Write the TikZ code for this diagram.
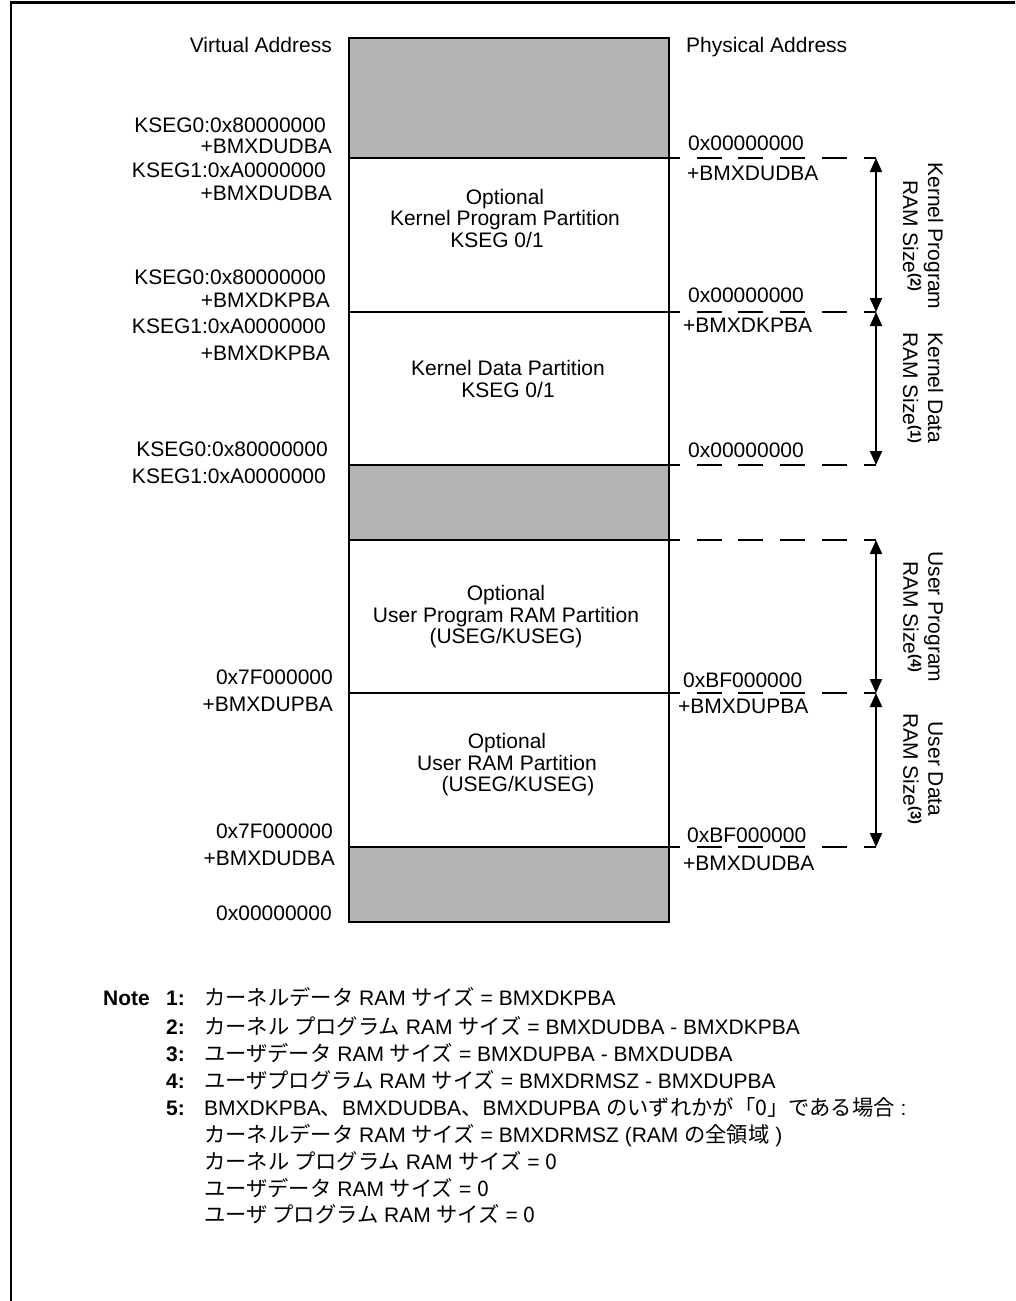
\documentclass[tikz,border=0pt]{standalone}
\usepackage{fontspec}
\setmainfont{Liberation Sans}
\newfontfamily\jpfont{Noto Sans CJK JP}
\usetikzlibrary{arrows.meta}
\definecolor{blockgray}{RGB}{179,179,179}
\newcommand{\J}[1]{{\jpfont\fontsize{21.3pt}{25pt}\selectfont #1}}
\begin{document}
\begin{tikzpicture}[x=1pt,y=-1pt,
  every node/.style={inner sep=0pt, font=\fontsize{21pt}{25pt}\selectfont},
  lab/.style={anchor=base east},
  rlab/.style={anchor=base west},
  boldlab/.style={anchor=base west, font=\bfseries\fontsize{21pt}{25pt}\selectfont},
  blk/.style={line width=2pt},
  frame/.style={line width=2.5pt},
  dashline/.style={line width=2pt, dash pattern=on 25pt off 16.7pt, dash phase=14pt},
  dimarrow/.style={line width=2pt, {Triangle[width=12pt,length=14pt]}-{Triangle[width=12pt,length=14pt]}},
  parttext/.style={align=center, font=\fontsize{21pt}{21.5pt}\selectfont},
  sizelab/.style={align=center, rotate=-90, font=\fontsize{21pt}{25pt}\selectfont},
]
\useasboundingbox (0,0) rectangle (1015,1301);

% outer frame (top and left)
\draw[frame] (11,1301) -- (11,2.5) -- (1015,2.5);

% gray regions
\fill[blockgray] (349,38) rectangle (669,158);
\fill[blockgray] (349,465) rectangle (669,540);
\fill[blockgray] (349,847) rectangle (669,922);

% block outline and dividers
\coordinate (bl0) at (349,38);
\coordinate (br7) at (669,922);
\draw[blk] (bl0) rectangle (br7);
\foreach \i/\y in {1/158,2/312,3/465,4/540,5/693,6/847}{
  \coordinate (bl\i) at (349,\y);
  \coordinate (br\i) at (669,\y);
  \coordinate (de\i) at (876,\y);
  \draw[blk] (bl\i) -- (br\i);
  \draw[dashline] (br\i) -- (de\i);
}

% dimension arrows
\draw[dimarrow] (de1) -- (de2);
\draw[dimarrow] (de2) -- (de3);
\draw[dimarrow] (de4) -- (de5);
\draw[dimarrow] (de5) -- (de6);

% size labels
\node[sizelab] (kps) at (923,236) {Kernel Program\\RAM Size\textsuperscript{\bfseries(2)}};
\node[sizelab] (kds) at (923,388) {Kernel Data\\RAM Size\textsuperscript{\bfseries(1)}};
\node[sizelab] (ups) at (923,617) {User Program\\RAM Size\textsuperscript{\bfseries(4)}};
\node[sizelab] (uds) at (923,769) {User Data\\RAM Size\textsuperscript{\bfseries(3)}};

% partition texts
\node[parttext] (t1) at (505,218) {Optional\\Kernel Program Partition\\\hspace*{-16pt}KSEG 0/1};
\node[parttext] (t2) at (508,379) {Kernel Data Partition\\KSEG 0/1};
\node[parttext] (t3) at (506,617) {Optional\\User Program RAM Partition\\(USEG/KUSEG)};
\node[parttext] (t4) at (507,765) {Optional\\User RAM Partition\\\hspace*{22pt}(USEG/KUSEG)};

% virtual addresses (left)
\node[lab] (va) at (332,52) {Virtual Address};
\node[lab] (l1) at (326,132) {KSEG0:0x80000000};
\node[lab] (l2) at (332,153) {+BMXDUDBA};
\node[lab] (l3) at (326,177) {KSEG1:0xA0000000};
\node[lab] (l4) at (332,200) {+BMXDUDBA};
\node[lab] (l5) at (326,284) {KSEG0:0x80000000};
\node[lab] (l6) at (330,307) {+BMXDKPBA};
\node[lab] (l7) at (326,333) {KSEG1:0xA0000000};
\node[lab] (l8) at (330,360) {+BMXDKPBA};
\node[lab] (l9) at (328,456) {KSEG0:0x80000000};
\node[lab] (l10) at (326,483) {KSEG1:0xA0000000};
\node[lab] (l11) at (333,684) {0x7F000000};
\node[lab] (l12) at (333,711) {+BMXDUPBA};
\node[lab] (l13) at (333,838) {0x7F000000};
\node[lab] (l14) at (335,865) {+BMXDUDBA};
\node[lab] (l15) at (332,920) {0x00000000};

% physical addresses (right)
\node[rlab] (pa) at (686,52) {Physical Address};
\node[rlab] (r1) at (688,150) {0x00000000};
\node[rlab] (r2) at (687,180) {+BMXDUDBA};
\node[rlab] (r3) at (688,302) {0x00000000};
\node[rlab] (r4) at (683,332) {+BMXDKPBA};
\node[rlab] (r5) at (688,457) {0x00000000};
\node[rlab] (r6) at (683,687) {0xBF000000};
\node[rlab] (r7) at (678,713) {+BMXDUPBA};
\node[rlab] (r8) at (687,842) {0xBF000000};
\node[rlab] (r9) at (683,870) {+BMXDUDBA};

% notes
\node[boldlab] (note) at (103,1005) {Note};
\node[boldlab] (n1) at (166,1005) {1:};
\node[boldlab] (n2) at (166,1034) {2:};
\node[boldlab] (n3) at (166,1061) {3:};
\node[boldlab] (n4) at (166,1088) {4:};
\node[boldlab] (n5) at (166,1115) {5:};
\node[rlab] (m1) at (204,1005) {\J{カーネルデータ} RAM \J{サイズ} = BMXDKPBA};
\node[rlab] (m2) at (204,1034) {\J{カーネル プログラム} RAM \J{サイズ} = BMXDUDBA - BMXDKPBA};
\node[rlab] (m3) at (204,1061) {\J{ユーザデータ} RAM \J{サイズ} = BMXDUPBA - BMXDUDBA};
\node[rlab] (m4) at (204,1088) {\J{ユーザプログラム} RAM \J{サイズ} = BMXDRMSZ - BMXDUPBA};
\node[rlab] (m5) at (204,1115) {BMXDKPBA\J{、}BMXDUDBA\J{、}BMXDUPBA \J{のいずれかが「0」である場合} :};
\node[rlab] (m6) at (204,1142) {\J{カーネルデータ} RAM \J{サイズ} = BMXDRMSZ (RAM \J{の全領域} )};
\node[rlab] (m7) at (204,1169) {\J{カーネル プログラム} RAM \J{サイズ} = \J{0}};
\node[rlab] (m8) at (204,1196) {\J{ユーザデータ} RAM \J{サイズ} = \J{0}};
\node[rlab] (m9) at (204,1222) {\J{ユーザ プログラム} RAM \J{サイズ} = \J{0}};
\end{tikzpicture}
\end{document}
